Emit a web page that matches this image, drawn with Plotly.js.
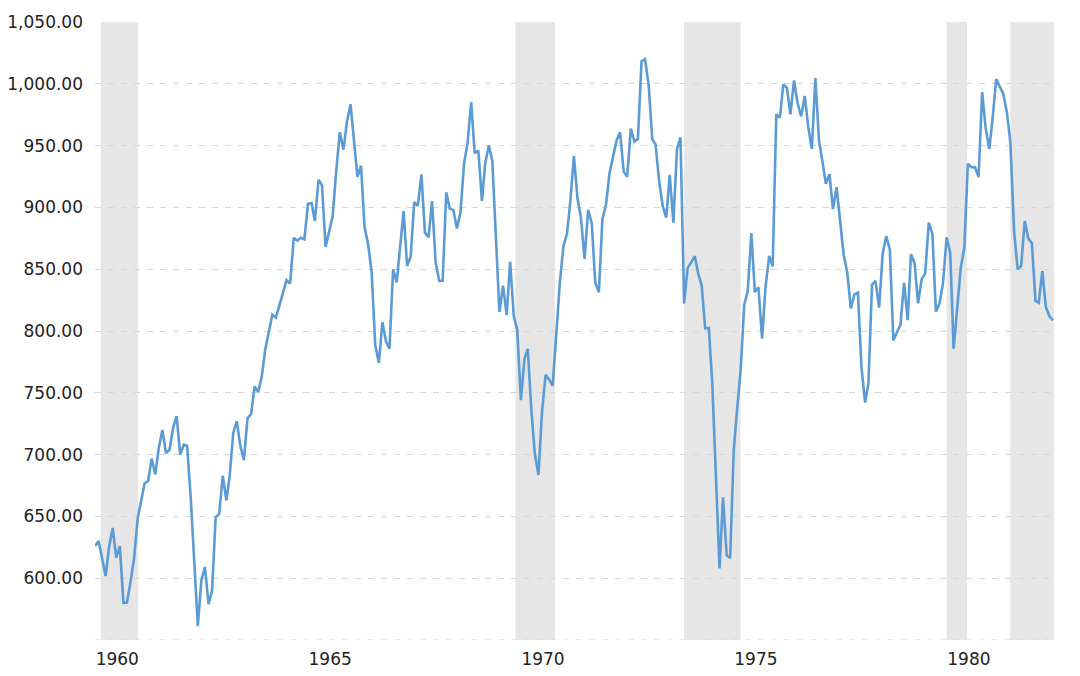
<!DOCTYPE html>
<html>
<head>
<meta charset="utf-8">
<script src="https://cdn.plot.ly/plotly-3.0.1.min.js"></script>
<style>
  html, body { margin: 0; padding: 0; background: #ffffff; }
  #chart { width: 1080px; height: 676px; }
</style>
</head>
<body>
<div id="chart"></div>
<script>
// Monthly closing values, January to December of each year
const startYear = 1960;
const v1960 = [626, 630.12, 616.59, 601.70, 625.50, 640.62, 616.73, 625.99, 580.14, 580.36, 597.22, 615.89];
const v1961 = [648.20, 662.08, 676.63, 678.71, 696.72, 683.96, 705.37, 719.94, 701.21, 703.92, 721.60, 731.14];
const v1962 = [700.00, 708.05, 706.95, 665.33, 613.36, 561.28, 597.93, 609.18, 578.98, 589.77, 649.30, 652.10];
const v1963 = [682.85, 662.94, 682.52, 717.70, 726.96, 706.88, 695.43, 729.32, 732.79, 755.23, 750.52, 762.95];
const v1964 = [785.34, 800.14, 813.29, 810.77, 820.56, 831.50, 841.10, 838.48, 875.37, 873.08, 875.43, 874.13];
const v1965 = [902.86, 903.48, 889.05, 922.31, 918.04, 868.03, 881.74, 893.10, 930.58, 960.82, 946.71, 969.26];
const v1966 = [983.51, 951.89, 924.77, 933.68, 884.07, 870.10, 847.38, 788.41, 774.22, 807.07, 791.59, 785.69];
const v1967 = [849.89, 839.37, 865.98, 897.05, 852.56, 860.26, 904.24, 901.29, 926.66, 879.74, 875.81, 905.11];
const v1968 = [855.47, 840.50, 840.67, 912.22, 899.00, 897.80, 883.00, 896.01, 935.79, 952.39, 985.08, 943.75];
const v1969 = [946.05, 905.21, 935.48, 950.18, 937.56, 873.19, 815.47, 836.72, 813.09, 855.99, 812.30, 800.36];
const v1970 = [744.06, 777.59, 785.57, 736.07, 700.44, 683.53, 734.12, 764.58, 760.68, 755.61, 794.09, 838.92];
const v1971 = [868.50, 878.83, 904.37, 941.75, 907.81, 891.14, 858.43, 898.07, 887.19, 839.00, 831.34, 890.20];
const v1972 = [902.17, 928.13, 940.70, 954.17, 960.72, 929.03, 924.74, 963.73, 953.27, 955.52, 1018.21, 1020.02];
const v1973 = [999.02, 955.07, 951.01, 921.43, 901.41, 891.71, 926.40, 887.57, 947.10, 956.58, 822.25, 850.86];
const v1974 = [855.55, 860.53, 846.68, 836.75, 802.17, 802.41, 757.43, 678.58, 607.87, 665.52, 618.66, 616.24];
const v1975 = [703.69, 739.05, 768.15, 821.34, 832.29, 878.99, 831.51, 835.34, 793.88, 836.04, 860.67, 852.41];
const v1976 = [975.28, 972.61, 999.45, 996.85, 975.23, 1002.78, 984.64, 973.74, 990.19, 964.93, 947.22, 1004.65];
const v1977 = [954.37, 936.42, 919.13, 926.90, 898.66, 916.30, 890.07, 861.49, 847.11, 818.35, 829.70, 831.17];
const v1978 = [769.92, 742.12, 757.36, 837.32, 840.61, 818.95, 862.27, 876.82, 865.82, 792.45, 799.03, 805.01];
const v1979 = [839.22, 808.82, 862.18, 854.90, 822.33, 841.98, 846.42, 887.63, 878.58, 815.70, 822.35, 838.74];
const v1980 = [875.85, 863.14, 785.75, 817.06, 850.85, 867.92, 935.32, 932.59, 932.42, 924.49, 993.34, 963.99];
const v1981 = [947.27, 974.58, 1003.87, 997.75, 991.75, 976.88, 952.34, 881.47, 849.98, 852.55, 888.98, 875.00];
const v1982 = [871.10, 824.39, 822.77, 848.36, 819.54, 811.93, 808.60];

const yearly = [v1960, v1961, v1962, v1963, v1964, v1965, v1966, v1967, v1968, v1969, v1970,
                v1971, v1972, v1973, v1974, v1975, v1976, v1977, v1978, v1979, v1980, v1981, v1982];

// Recession periods (shaded bands)
const recessionStart = ['1960-02-20', '1969-11-15', '1973-11-01', '1980-01-01', '1981-07-01'];
const recessionEnd   = ['1961-01-06', '1970-10-20', '1975-03-01', '1980-06-25', '1982-08-01'];

// Axis tick labels
const yearLabels = ['1960', '1965', '1970', '1975', '1980'];
const yTickValues = [600, 650, 700, 750, 800, 850, 900, 950, 1000, 1050];
const yMin = 550;
const yMax = 1050;

function pad(n) { return (n < 10 ? '0' : '') + n; }
const dates = [];
const values = [];
yearly.forEach(function (arr, yi) {
  arr.forEach(function (v, mi) {
    dates.push((startYear + yi) + '-' + pad(mi + 1) + '-01');
    values.push(v);
  });
});

const gridColor = '#d6d6d6';
const gridDash = '6px,7px';

const shapes = recessionStart.map(function (s, i) {
  return {
    type: 'rect', xref: 'x', yref: 'paper',
    x0: s, x1: recessionEnd[i], y0: 0, y1: 1,
    fillcolor: '#e6e6e6', line: { width: 0 }, layer: 'below'
  };
});
// bottom dashed baseline of the plot area
shapes.push({
  type: 'line', xref: 'paper', yref: 'y',
  x0: 0, x1: 0.995, y0: yMin, y1: yMin,
  line: { color: gridColor, width: 1, dash: gridDash }, layer: 'between'
});

const yTickText = yTickValues.map(function (v) {
  return v.toLocaleString('en-US', { minimumFractionDigits: 2, maximumFractionDigits: 2 });
});

const trace = {
  x: dates, y: values, type: 'scatter', mode: 'lines',
  line: { color: '#5b9bd5', width: 2.6 },
  hoverinfo: 'x+y'
};

const tickFont = { family: 'DejaVu Sans, Verdana, sans-serif', size: 17, color: '#222222' };

const layout = {
  width: 1080, height: 676,
  margin: { l: 95, r: 26, t: 22, b: 36 },
  paper_bgcolor: '#ffffff', plot_bgcolor: '#ffffff',
  showlegend: false,
  font: tickFont,
  xaxis: {
    type: 'date',
    range: ['1960-01-01', '1982-07-10'],
    showgrid: false, zeroline: false, showline: false,
    tickmode: 'array',
    tickvals: yearLabels.map(function (y) { return y + '-07-10'; }),
    ticktext: yearLabels,
    ticks: '',
    ticklabelstandoff: 7,
    tickfont: tickFont
  },
  yaxis: {
    range: [yMin, yMax],
    tickmode: 'array', tickvals: yTickValues, ticktext: yTickText,
    showgrid: true, gridcolor: gridColor, griddash: gridDash, gridwidth: 1,
    zeroline: false, showline: false, ticks: '',
    ticklabelstandoff: 11,
    tickfont: tickFont
  },
  shapes: shapes
};

Plotly.newPlot('chart', [trace], layout, { displayModeBar: false, staticPlot: true });
</script>
</body>
</html>
